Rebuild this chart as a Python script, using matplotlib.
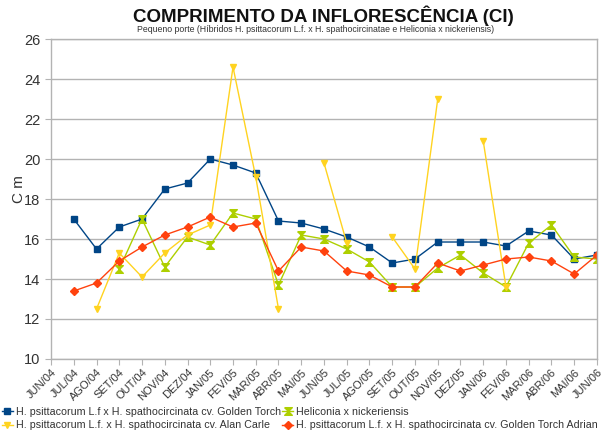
"""
Comprimento da inflorescência (CI) - híbridos de pequeno porte.
"""

import numpy as np
import matplotlib
matplotlib.use("Agg")
import matplotlib.pyplot as plt

plt.rcParams["font.family"] = ["Liberation Sans", "DejaVu Sans"]

meses = [
    "JUN/04", "JUL/04", "AGO/04", "SET/04", "OUT/04", "NOV/04", "DEZ/04",
    "JAN/05", "FEV/05", "MAR/05", "ABR/05", "MAI/05", "JUN/05", "JUL/05",
    "AGO/05", "SET/05", "OUT/05", "NOV/05", "DEZ/05", "JAN/06", "FEV/06",
    "MAR/06", "ABR/06", "MAI/06", "JUN/06",
]
nan = np.nan

golden_torch = [nan, 17.0, 15.5, 16.6, 17.0, 18.5, 18.8, 20.0, 19.7, 19.3,
                16.9, 16.8, 16.5, 16.1, 15.6, 14.8, 15.0, 15.85, 15.85, 15.85,
                15.65, 16.4, 16.2, 15.0, 15.2]
nickeriensis = [nan, nan, nan, 14.5, 17.0, 14.6, 16.1, 15.7, 17.3, 17.0,
                13.7, 16.2, 16.0, 15.5, 14.85, 13.6, 13.6, 14.55, 15.2, 14.3,
                13.6, 15.8, 16.7, 15.1, 15.0]
alan_carle = [nan, nan, 12.5, 15.3, 14.1, 15.3, 16.2, 16.7, 24.6, 19.1,
              12.5, nan, 19.8, 15.8, nan, 16.1, 14.5, 23.0, nan, 20.9,
              13.6, nan, nan, nan, nan]
golden_adrian = [nan, 13.4, 13.8, 14.9, 15.6, 16.2, 16.6, 17.1, 16.6, 16.8,
                 14.4, 15.6, 15.4, 14.4, 14.2, 13.6, 13.6, 14.8, 14.4, 14.7,
                 15.0, 15.1, 14.9, 14.25, 15.2]

nomes = [
    "H. psittacorum L.f x H. spathocircinata cv. Golden Torch",
    "Heliconia x nickeriensis",
    "H. psittacorum L.f. x H. spathocircinata cv. Alan Carle",
    "H. psittacorum L.f. x H. spathocircinata cv. Golden Torch Adrian",
]

# ampulheta (marcador da série verde)
ampulheta = [(-1, 1), (1, 1), (-1, -1), (1, -1), (-1, 1)]

estilos = [
    (golden_torch, "#004586", "s", 4.5),
    (nickeriensis, "#aecf00", ampulheta, 5.5),
    (alan_carle, "#ffd320", "v", 5.0),
    (golden_adrian, "#ff420e", "D", 4.0),
]

fig = plt.figure(figsize=(6.03, 4.32), dpi=100)
ax = fig.add_axes([0.0846, 0.169, 0.9054, 0.7406])

x = np.arange(len(meses))
linhas = []
for (serie, cor, marc, ms), nome in zip(estilos, nomes):
    (ln,) = ax.plot(x, serie, color=cor, marker=marc, markersize=ms,
                    markeredgecolor=cor, linewidth=1.0, label=nome)
    linhas.append(ln)

ax.set_xlim(0, len(meses) - 1)
ax.set_ylim(10, 26)
ax.set_yticks(np.arange(10, 27, 2))
ax.set_xticks(x)
ax.set_xticklabels(meses, rotation=45, ha="right", rotation_mode="anchor",
                   fontsize=8)
ax.tick_params(axis="y", labelsize=10.5, color="#b3b3b3", labelcolor="#333333",
               length=4, width=0.8)
ax.tick_params(axis="x", color="#b3b3b3", labelcolor="#333333", length=4,
               width=0.8, pad=2)
ax.grid(axis="y", color="#b3b3b3", linewidth=1.0)
ax.set_axisbelow(True)
for sp in ax.spines.values():
    sp.set_color("#b3b3b3")
    sp.set_linewidth(1.0)

ax.set_ylabel("C m", fontsize=11, color="#333333")
ax.yaxis.set_label_coords(-0.045, 0.53)

fig.text(0.537, 0.964, "COMPRIMENTO DA INFLORESCÊNCIA (CI)", ha="center",
         va="center", fontsize=13.5, fontweight="bold", color="#111111")
fig.text(0.523, 0.932,
         "Pequeno porte (Híbridos H. psittacorum L.f. x H. spathocircinatae "
         "e Heliconia x nickeriensis)",
         ha="center", va="center", fontsize=6.3, color="#333333")

# ordem coluna a coluna para obter as linhas da legenda como no original
ordem = [0, 2, 1, 3]
fig.legend([linhas[i] for i in ordem], [nomes[i] for i in ordem],
           loc="lower left", bbox_to_anchor=(0.0, 0.0), ncol=2,
           frameon=False, fontsize=7.7, handlelength=1.1, handletextpad=0.2,
           columnspacing=0.1, labelspacing=0.3, borderaxespad=0.0,
           borderpad=0.15, labelcolor="#333333")

fig.savefig("out.png", dpi=100)
